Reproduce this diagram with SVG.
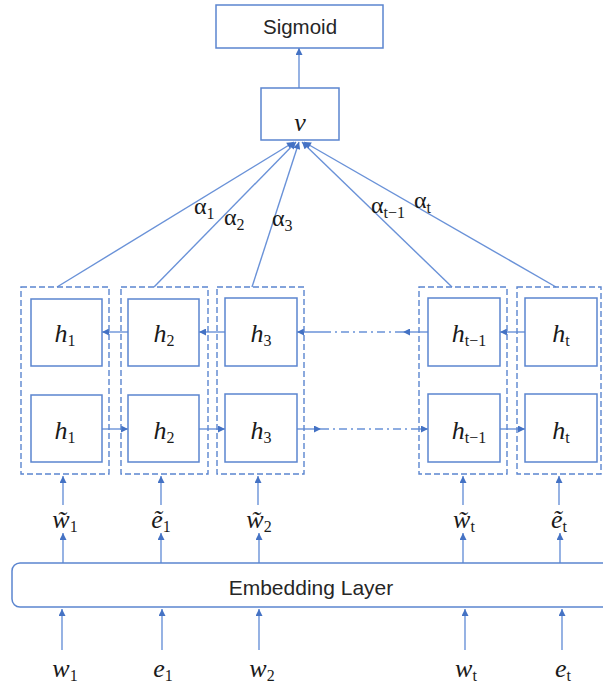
<svg xmlns="http://www.w3.org/2000/svg" width="603" height="690" viewBox="0 0 603 690">
<defs>
<marker id="ah" viewBox="0 0 10 10" refX="10" refY="5" markerWidth="8" markerHeight="7" markerUnits="userSpaceOnUse" orient="auto"><path d="M0,0 L10,5 L0,10 z" fill="#4472C4"/></marker>
</defs>
<style>
.box{fill:#fff;stroke:#5B85CF;stroke-width:1.5}
.dbox{fill:none;stroke:#5B85CF;stroke-width:1.4;stroke-dasharray:6 3}
.ln{stroke:#6A92D8;stroke-width:1.4;fill:none}
.arr{marker-end:url(#ah)}
.dd{stroke-dasharray:8 4 2 4}
.sans{font-family:"Liberation Sans",Arial,sans-serif;fill:#262626;text-anchor:middle}
.m{font-family:"Liberation Serif","DejaVu Serif",serif;font-style:italic;fill:#1a1a1a;font-size:26px;text-anchor:middle}
.a{font-family:"Liberation Serif","DejaVu Serif",serif;fill:#1a1a1a;font-size:24px}
.sub{font-style:normal;font-size:16px}
</style>
<rect width="603" height="690" fill="#fff"/>

<g id="connectors">
  <line class="ln arr" x1="299" y1="88" x2="299" y2="48"/>
  <line class="ln arr" x1="57" y1="287" x2="294" y2="142"/>
  <line class="ln arr" x1="154" y1="287" x2="296" y2="142"/>
  <line class="ln arr" x1="252" y1="287" x2="299" y2="142"/>
  <line class="ln arr" x1="452" y1="287" x2="302" y2="142"/>
  <line class="ln arr" x1="556" y1="287" x2="304" y2="142"/>
  <line class="ln arr" x1="128" y1="332" x2="102" y2="332"/>
  <line class="ln arr" x1="225" y1="332" x2="199" y2="332"/>
  <line class="ln arr" x1="428" y1="332" x2="403" y2="332"/>
  <line class="ln dd" x1="403" y1="332" x2="330" y2="332"/>
  <line class="ln arr" x1="330" y1="332" x2="297" y2="332"/>
  <line class="ln arr" x1="525" y1="332" x2="500" y2="332"/>
  <line class="ln arr" x1="102" y1="429" x2="128" y2="429"/>
  <line class="ln arr" x1="199" y1="429" x2="225" y2="429"/>
  <line class="ln arr" x1="297" y1="429" x2="321" y2="429"/>
  <line class="ln dd" x1="321" y1="429" x2="418" y2="429"/>
  <line class="ln arr" x1="418" y1="429" x2="428" y2="429"/>
  <line class="ln arr" x1="500" y1="429" x2="525" y2="429"/>
  <line class="ln arr" x1="63" y1="505" x2="63" y2="476"/>
  <line class="ln arr" x1="161" y1="505" x2="161" y2="476"/>
  <line class="ln arr" x1="258" y1="505" x2="258" y2="476"/>
  <line class="ln arr" x1="463" y1="505" x2="463" y2="476"/>
  <line class="ln arr" x1="559" y1="505" x2="559" y2="476"/>
  <line class="ln arr" x1="63" y1="563" x2="63" y2="533"/>
  <line class="ln arr" x1="161" y1="563" x2="161" y2="533"/>
  <line class="ln arr" x1="259" y1="563" x2="259" y2="533"/>
  <line class="ln arr" x1="463" y1="563" x2="463" y2="533"/>
  <line class="ln arr" x1="560" y1="563" x2="560" y2="533"/>
  <line class="ln arr" x1="62" y1="650" x2="62" y2="609"/>
  <line class="ln arr" x1="162" y1="650" x2="162" y2="609"/>
  <line class="ln arr" x1="259" y1="650" x2="259" y2="609"/>
  <line class="ln arr" x1="465" y1="650" x2="465" y2="609"/>
  <line class="ln arr" x1="562" y1="650" x2="562" y2="609"/>
</g>

<g id="sigmoid">
  <rect class="box" x="216" y="5" width="167" height="43"/>
  <text class="sans" x="300" y="34" font-size="20.5">Sigmoid</text>
</g>
<g id="v">
  <rect class="box" x="261" y="88" width="78" height="52"/>
  <text class="m" x="300" y="131" font-size="29">v</text>
</g>

<g id="alphas">
  <text class="a" x="194" y="214">α<tspan class="sub" dy="5">1</tspan></text>
  <text class="a" x="224" y="225">α<tspan class="sub" dy="5">2</tspan></text>
  <text class="a" x="272" y="226">α<tspan class="sub" dy="5">3</tspan></text>
  <text class="a" x="371" y="213">α<tspan class="sub" dy="5">t−1</tspan></text>
  <text class="a" x="414" y="208">α<tspan class="sub" dy="5">t</tspan></text>
</g>

<g id="col1">
  <rect class="dbox" x="21" y="287" width="88" height="187"/>
  <rect class="box" x="31" y="299" width="71" height="67"/>
  <rect class="box" x="31" y="395" width="71" height="67"/>
  <text class="m" x="65" y="342">h<tspan class="sub" dy="4">1</tspan></text>
  <text class="m" x="65" y="439">h<tspan class="sub" dy="4">1</tspan></text>
</g>
<g id="col2">
  <rect class="dbox" x="121" y="287" width="87" height="187"/>
  <rect class="box" x="128" y="299" width="71" height="67"/>
  <rect class="box" x="128" y="395" width="71" height="67"/>
  <text class="m" x="164" y="342">h<tspan class="sub" dy="4">2</tspan></text>
  <text class="m" x="164" y="439">h<tspan class="sub" dy="4">2</tspan></text>
</g>
<g id="col3">
  <rect class="dbox" x="217" y="287" width="87" height="187"/>
  <rect class="box" x="225" y="298" width="72" height="68"/>
  <rect class="box" x="225" y="394" width="72" height="68"/>
  <text class="m" x="261" y="342">h<tspan class="sub" dy="4">3</tspan></text>
  <text class="m" x="261" y="439">h<tspan class="sub" dy="4">3</tspan></text>
</g>
<g id="col4">
  <rect class="dbox" x="419" y="287" width="88" height="187"/>
  <rect class="box" x="428" y="298" width="72" height="68"/>
  <rect class="box" x="428" y="394" width="72" height="68"/>
  <text class="m" x="469" y="342">h<tspan class="sub" dy="4">t−1</tspan></text>
  <text class="m" x="469" y="439">h<tspan class="sub" dy="4">t−1</tspan></text>
</g>
<g id="col5">
  <rect class="dbox" x="517" y="287" width="84" height="187"/>
  <rect class="box" x="525" y="298" width="72" height="68"/>
  <rect class="box" x="525" y="394" width="72" height="68"/>
  <text class="m" x="561" y="342">h<tspan class="sub" dy="4">t</tspan></text>
  <text class="m" x="561" y="439">h<tspan class="sub" dy="4">t</tspan></text>
</g>

<g id="embedded-labels">
  <text class="m" x="65" y="528">w&#x303;<tspan class="sub" dy="4">1</tspan></text>
  <text class="m" x="161" y="528">e&#x303;<tspan class="sub" dy="4">1</tspan></text>
  <text class="m" x="259" y="528">w&#x303;<tspan class="sub" dy="4">2</tspan></text>
  <text class="m" x="464" y="528">w&#x303;<tspan class="sub" dy="4">t</tspan></text>
  <text class="m" x="559" y="528">e&#x303;<tspan class="sub" dy="4">t</tspan></text>
</g>

<g id="embedding">
  <rect class="box" x="12" y="563" width="610" height="44" rx="8"/>
  <text class="sans" x="311" y="595" font-size="21">Embedding Layer</text>
</g>

<g id="inputs">
  <text class="m" x="65" y="677">w<tspan class="sub" dy="4">1</tspan></text>
  <text class="m" x="163" y="677">e<tspan class="sub" dy="4">1</tspan></text>
  <text class="m" x="262" y="677">w<tspan class="sub" dy="4">2</tspan></text>
  <text class="m" x="466" y="677">w<tspan class="sub" dy="4">t</tspan></text>
  <text class="m" x="563" y="677">e<tspan class="sub" dy="4">t</tspan></text>
</g>
</svg>
